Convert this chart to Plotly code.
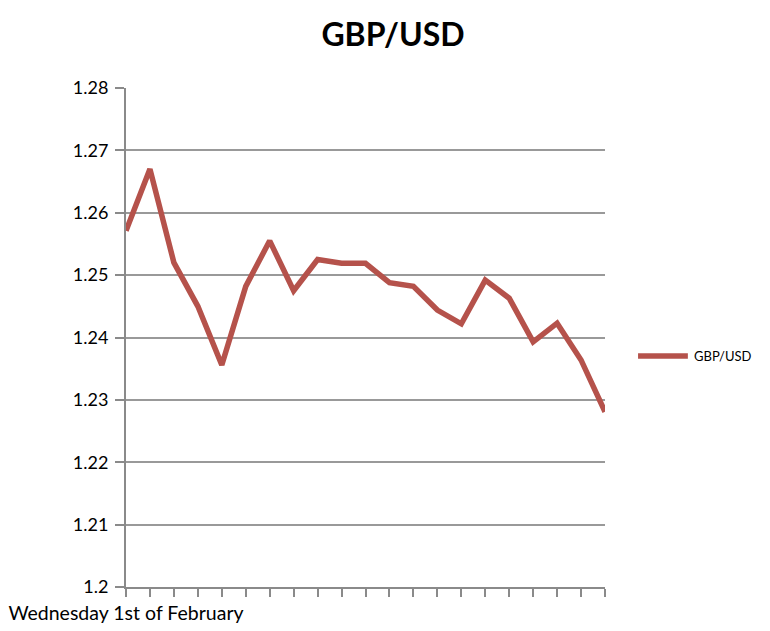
import plotly.graph_objects as go

series_name = "GBP/USD"
x_index = list(range(21))
x_labels = ["Wednesday 1st of February"] + [""] * 20
gbp_usd = [1.2571, 1.2670, 1.2520, 1.2450, 1.2356, 1.2482, 1.2555, 1.2475, 1.2525,
           1.2519, 1.2519, 1.2488, 1.2482, 1.2444, 1.2422, 1.2492, 1.2463, 1.2393,
           1.2423, 1.2364, 1.2281]
y_ticks = [1.2, 1.21, 1.22, 1.23, 1.24, 1.25, 1.26, 1.27, 1.28]
y_tick_text = ["1.2", "1.21", "1.22", "1.23", "1.24", "1.25", "1.26", "1.27", "1.28"]

line_color = "#b5524b"
fig = go.Figure()
fig.add_trace(go.Scatter(
    x=x_index, y=gbp_usd, mode="lines", name=series_name,
    line=dict(color=line_color, width=5.5), showlegend=False,
))

# custom legend (line sample + label) to the right of the plot area
leg_y = 0.463
fig.add_shape(type="line", xref="paper", yref="paper", x0=1.069, x1=1.173, y0=leg_y, y1=leg_y,
              line=dict(color=line_color, width=5.5))
fig.add_annotation(text=series_name, xref="paper", yref="paper", x=1.181, y=leg_y,
                   xanchor="left", yanchor="middle", showarrow=False,
                   font=dict(size=13, family="Lato, sans-serif", color="black"))

axis_color = "#8a8a8a"
fig.update_layout(
    width=770, height=631,
    margin=dict(l=118, r=173, t=80, b=52),
    paper_bgcolor="white", plot_bgcolor="white",
    font=dict(family="Lato, Carlito, sans-serif", color="black", size=18),
    title=dict(text="<b>GBP/USD</b>", x=0.5, xanchor="center", y=0.958, yanchor="middle",
               font=dict(size=32, family="Lato, sans-serif", color="black")),
    showlegend=False,
    xaxis=dict(range=[0, 20], tickmode="array", tickvals=x_index, ticktext=x_labels,
               showgrid=False, zeroline=False, showline=True, linecolor=axis_color, linewidth=2,
               ticks="outside", ticklen=8, tickwidth=2, tickcolor=axis_color,
               tickfont=dict(size=19.5), ticklabelstandoff=0, automargin=False),
    yaxis=dict(range=[1.2, 1.28], tickmode="array", tickvals=y_ticks, ticktext=y_tick_text,
               showgrid=True, gridcolor="#999999", gridwidth=1.8, zeroline=False,
               showline=True, linecolor=axis_color, linewidth=2,
               ticks="outside", ticklen=9, tickwidth=2, tickcolor=axis_color,
               tickfont=dict(size=18), ticklabelstandoff=3, automargin=False),
)
fig.write_html("out.html")
